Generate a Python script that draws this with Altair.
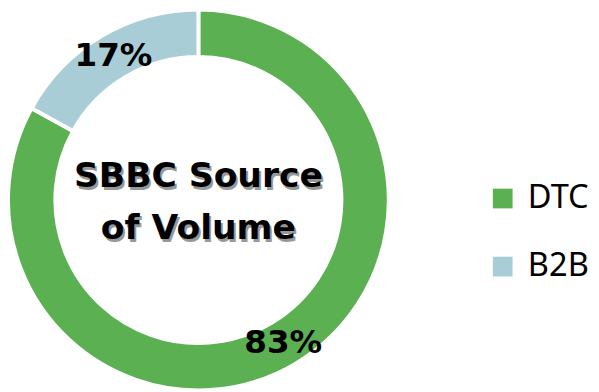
import altair as alt
import pandas as pd

categories = ["DTC", "B2B"]
shares = [83, 17]
labels = ["83%", "17%"]
colors = ["#5BB152", "#A9CDD6"]
center_title = ["SBBC Source", "of Volume"]

df = pd.DataFrame({
    "source": categories,
    "share": shares,
    "label": labels,
    "rank": list(range(len(categories))),
})

CX, CY = 193, 192  # donut centre inside the drawing area

base = alt.Chart(df).encode(
    theta=alt.Theta("share:Q", stack=True),
    order=alt.Order("rank:Q"),
    x=alt.value(CX),
    y=alt.value(CY),
)

color = alt.Color(
    "source:N",
    scale=alt.Scale(domain=categories, range=colors),
    legend=alt.Legend(
        title=None,
        orient="none",
        legendX=485,
        legendY=174,
        symbolType="square",
        symbolSize=400,
        symbolStrokeWidth=0,
        labelFont="Noto Sans",
        labelFontSize=33,
        labelColor="black",
        labelOffset=9,
        rowPadding=35,
        padding=0,
    ),
)

arcs = base.mark_arc(outerRadius=193, innerRadius=145, stroke="white", strokeWidth=4).encode(color=color)

pct = base.mark_text(radius=169, font="DejaVu Sans", fontSize=33, fontWeight="bold", color="black").encode(
    text="label:N"
)

title_df = pd.DataFrame({"k": [0]})
shadow = alt.Chart(title_df).mark_text(
    font="DejaVu Sans", fontSize=35, fontWeight="bold", lineHeight=53, color="#333333", opacity=0.5,
    dx=2, dy=-21, align="center", baseline="middle",
).encode(text=alt.value(center_title), x=alt.value(CX), y=alt.value(CY))
title = alt.Chart(title_df).mark_text(
    font="DejaVu Sans", fontSize=35, fontWeight="bold", lineHeight=53, color="black",
    dx=0, dy=-24, align="center", baseline="middle",
).encode(text=alt.value(center_title), x=alt.value(CX), y=alt.value(CY))

chart = alt.layer(arcs, pct, shadow, title).properties(
    width=591, height=384, padding=0,
    autosize=alt.AutoSizeParams(type="none"),
).configure_view(stroke=None)

chart.save("out.html", embed_options={"renderer": "svg", "actions": False})
